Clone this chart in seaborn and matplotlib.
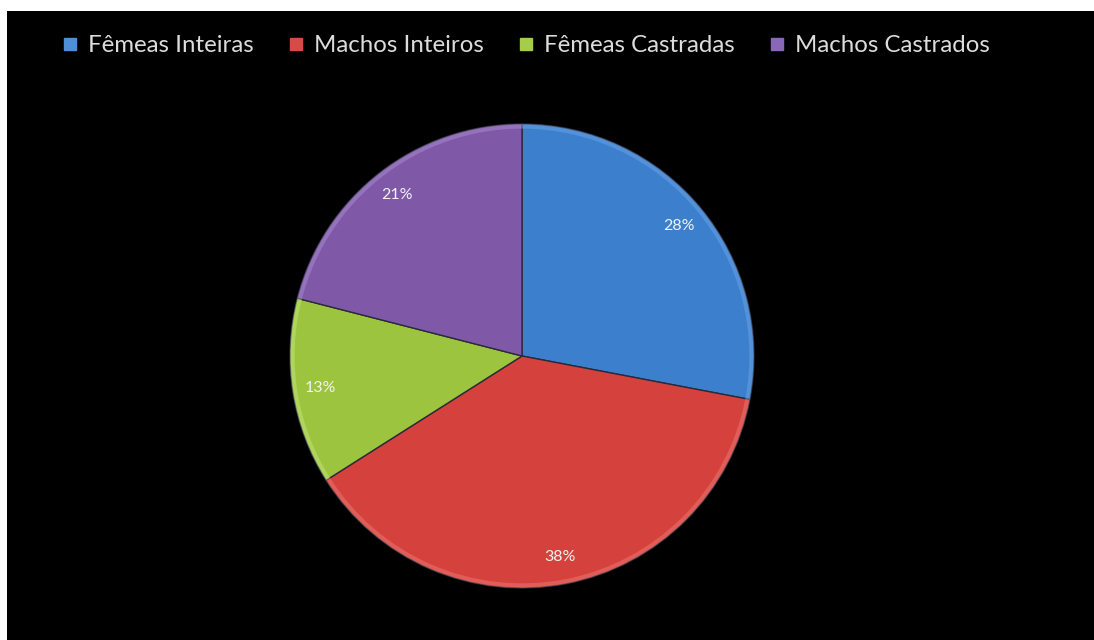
import matplotlib
matplotlib.use("Agg")
import matplotlib.pyplot as plt
from matplotlib.patches import Rectangle
from matplotlib.lines import Line2D
import seaborn as sns

# Distribution of animals by sex and neuter status
categories = ["Fêmeas Inteiras", "Machos Inteiros", "Fêmeas Castradas", "Machos Castrados"]
shares = [28, 38, 13, 21]
slice_colors = ["#3c7fcd", "#d5413c", "#9cc43e", "#7f59a8"]
rim_colors = ["#6aa6e8", "#ee7a72", "#c4e67a", "#a98bd0"]
legend_colors = ["#4f8fd8", "#d84a48", "#a6cc4c", "#8a68b8"]

sns.set_theme(style="dark")
plt.rcParams["font.family"] = ["Lato", "DejaVu Sans"]

W, H = 1094, 640
fig = plt.figure(figsize=(W / 100, H / 100), dpi=100, facecolor="white")

# Black chart area with a thin white margin on the left and top
bg = fig.add_axes([0, 0, 1, 1])
bg.set_xlim(0, W)
bg.set_ylim(H, 0)
bg.axis("off")
bg.add_patch(Rectangle((7, 11), W - 7, H - 11, facecolor="black", edgecolor="none"))

# Pie axes: centre (522, 356), radius 232 px
cx, cy, r = 522, 356, 232
ax = fig.add_axes([(cx - r) / W, (H - cy - r) / H, 2 * r / W, 2 * r / H])
ax.set_facecolor("none")

wedges, texts, autotexts = ax.pie(
    shares,
    colors=slice_colors,
    startangle=90,
    counterclock=False,
    autopct="%d%%",
    pctdistance=0.88,
    radius=1.0,
    wedgeprops=dict(edgecolor="#2a2a3a", linewidth=1.0),
    textprops=dict(color="#f2f2f2", fontsize=11.5),
)
# Lighter bevel along the outer rim of each slice
ax.pie(
    shares,
    colors=rim_colors,
    startangle=90,
    counterclock=False,
    radius=1.0,
    wedgeprops=dict(width=0.02, edgecolor="none", alpha=0.5),
)
ax.set_xlim(-1.0, 1.0)
ax.set_ylim(-1.0, 1.0)
ax.set_aspect("equal")
ax.axis("off")

handles = [
    Line2D([0], [0], marker="s", linestyle="none", markersize=9,
           markerfacecolor=c, markeredgecolor=c)
    for c in legend_colors
]
fig.legend(
    handles, categories,
    loc="center left",
    bbox_to_anchor=(63 / W, 1 - 46 / H),
    ncol=4,
    frameon=False,
    fontsize=17.3,
    labelcolor="#dcdcdc",
    handlelength=0.6,
    handletextpad=0.45,
    columnspacing=1.45,
    borderpad=0,
    borderaxespad=0,
)

fig.savefig("out.png", dpi=100, facecolor="white")
